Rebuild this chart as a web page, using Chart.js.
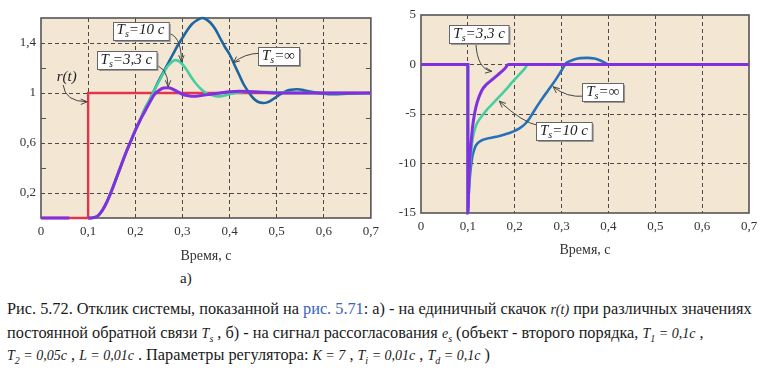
<!DOCTYPE html>
<html>
<head>
<meta charset="utf-8">
<script src="https://cdn.jsdelivr.net/npm/chart.js@4.4.1/dist/chart.umd.min.js"></script>
<style>
  html,body{margin:0;padding:0;background:#fff;}
  body{width:764px;height:376px;position:relative;overflow:hidden;
       font-family:"Liberation Serif",Tinos,"Times New Roman","DejaVu Serif",serif;color:#1a1a1a;}
  canvas{position:absolute;top:0;}
  #cA{left:0;}
  #cB{left:380px;}
  .lbl{position:absolute;font-size:15px;white-space:nowrap;}
  .cap{position:absolute;left:7px;font-size:16.3px;line-height:18px;white-space:nowrap;}
  .m{font-style:italic;font-size:14px;}
  .m sub{font-size:10px;}
  .lnk{color:#3a62c4;}
</style>
</head>
<body>
<canvas id="cA" width="385" height="265"></canvas>
<canvas id="cB" width="384" height="265"></canvas>
<div class="lbl" style="left:180px;top:270px;">а)</div>

<div class="cap" style="top:300px;">Рис. 5.72. Отклик системы, показанной на <span class="lnk">рис. 5.71</span>: а) - на единичный скачок <span class="m">r(t)</span> при различных значениях</div>
<div class="cap" style="top:324px;">постоянной обратной связи <span class="m">T<sub>s</sub></span> , б) - на сигнал рассогласования <span class="m">e<sub>s</sub></span> (объект - второго порядка, <span class="m">T<sub>1</sub> = 0,1c</span> ,</div>
<div class="cap" style="top:346px;"><span class="m">T<sub>2</sub> = 0,05c</span> , <span class="m">L = 0,01c</span> . Параметры регулятора: <span class="m">K = 7</span> , <span class="m">T<sub>i</sub> = 0,01c</span> , <span class="m">T<sub>d</sub> = 0,1c</span> )</div>

<script>
(function(){
  const FONT = '"Liberation Serif", Tinos, "Times New Roman", "DejaVu Serif", serif';

  /* ---- panel a: response to unit step ---- */
  const T_REF = [0, 0.1, 0.1, 0.7];
  const Y_REF = [0, 0, 1, 1];

  // Ts = 3,3 c (gap between 0.06 and 0.1 where r(t) shows)
  const T_A3 = [0, 0.06, 0.06, 0.1, 0.11, 0.12, 0.13, 0.14, 0.15, 0.16, 0.17, 0.18, 0.19, 0.2,
                0.21, 0.22, 0.23, 0.24, 0.25, 0.26, 0.27, 0.28, 0.29, 0.3, 0.31, 0.32, 0.33, 0.34,
                0.36, 0.38, 0.4, 0.42, 0.45, 0.5, 0.55, 0.6, 0.7];
  const Y_A3 = [0, 0, null, 0, 0.002, 0.015, 0.06, 0.13, 0.22, 0.32, 0.42, 0.52, 0.61, 0.70,
                0.78, 0.85, 0.92, 0.985, 1.02, 1.04, 1.042, 1.03, 1.01, 0.99, 0.98, 0.975, 0.975, 0.98,
                0.99, 1.0, 1.01, 1.015, 1.01, 1.0, 1.0, 1.0, 1.0];

  // Ts = 10 c
  const T_A10 = [0.1, 0.11, 0.12, 0.13, 0.14, 0.15, 0.16, 0.17, 0.18, 0.19, 0.2, 0.21, 0.22, 0.23,
                 0.24, 0.25, 0.26, 0.27, 0.28, 0.285, 0.29, 0.3, 0.31, 0.32, 0.33, 0.34, 0.35, 0.36,
                 0.37, 0.38, 0.39, 0.4, 0.42, 0.45, 0.5, 0.55, 0.7];
  const Y_A10 = [0, 0.002, 0.015, 0.06, 0.13, 0.22, 0.32, 0.42, 0.52, 0.61, 0.70, 0.78, 0.87, 0.94,
                 1.02, 1.09, 1.16, 1.22, 1.255, 1.263, 1.26, 1.23, 1.18, 1.12, 1.07, 1.03, 1.0, 0.985,
                 0.975, 0.973, 0.98, 0.99, 1.005, 1.01, 1.005, 1.0, 1.0];

  // Ts = inf
  const T_AINF = [0.1, 0.11, 0.12, 0.13, 0.14, 0.15, 0.16, 0.17, 0.18, 0.19, 0.2, 0.21, 0.22, 0.23,
                  0.24, 0.25, 0.26, 0.27, 0.28, 0.29, 0.3, 0.31, 0.32, 0.33, 0.342, 0.35, 0.36, 0.37,
                  0.38, 0.39, 0.4, 0.41, 0.42, 0.43, 0.44, 0.45, 0.46, 0.472, 0.48, 0.49, 0.5, 0.51,
                  0.52, 0.53, 0.542, 0.55, 0.56, 0.58, 0.6, 0.62, 0.65, 0.7];
  const Y_AINF = [0, 0.002, 0.015, 0.06, 0.13, 0.22, 0.32, 0.42, 0.52, 0.61, 0.70, 0.78, 0.87, 0.94,
                  1.02, 1.10, 1.17, 1.24, 1.31, 1.38, 1.44, 1.50, 1.55, 1.58, 1.60, 1.59, 1.56, 1.51,
                  1.44, 1.37, 1.31, 1.23, 1.15, 1.07, 1.01, 0.96, 0.93, 0.92, 0.925, 0.945, 0.97, 0.995,
                  1.015, 1.025, 1.03, 1.028, 1.02, 1.005, 0.995, 0.99, 0.995, 1.0];

  /* ---- panel b: error signal e_s ---- */
  const T_B3 = [0, 0.1, 0.1, 0.102, 0.105, 0.108, 0.11, 0.115, 0.12, 0.13, 0.14, 0.15, 0.16, 0.17,
                0.18, 0.186, 0.25, 0.7];
  const Y_B3 = [0, 0, -15, -12, -9, -7.3, -6.3, -4.8, -3.8, -2.6, -2.0, -1.6, -1.2, -0.8,
                -0.35, 0, 0, 0];

  const T_B10 = [0, 0.1, 0.1, 0.102, 0.105, 0.108, 0.11, 0.115, 0.12, 0.13, 0.14, 0.15, 0.16, 0.17,
                 0.18, 0.19, 0.2, 0.21, 0.22, 0.229, 0.3, 0.7];
  const Y_B10 = [0, 0, -15, -12.5, -10, -8.4, -7.6, -6.5, -5.9, -5.2, -4.6, -4.1, -3.6, -3.1,
                 -2.6, -2.05, -1.5, -1.0, -0.5, 0, 0, 0];

  const T_BINF = [0, 0.1, 0.1, 0.102, 0.105, 0.108, 0.11, 0.115, 0.12, 0.13, 0.14, 0.15, 0.16, 0.17,
                  0.18, 0.19, 0.2, 0.21, 0.22, 0.23, 0.24, 0.25, 0.26, 0.27, 0.28, 0.29, 0.3, 0.31,
                  0.32, 0.33, 0.34, 0.355, 0.37, 0.38, 0.39, 0.4, 0.45, 0.7];
  const Y_BINF = [0, 0, -15, -13, -11, -9.8, -9.2, -8.4, -8.0, -7.65, -7.5, -7.4, -7.3, -7.2,
                  -7.05, -6.9, -6.7, -6.45, -6.1, -5.55, -4.8, -4.05, -3.35, -2.7, -2.05, -1.35, -0.6, 0.15,
                  0.38, 0.55, 0.64, 0.67, 0.6, 0.45, 0.24, 0, 0, 0];

  /* ---- ticks ---- */
  const X_TICKS = [0, 0.1, 0.2, 0.3, 0.4, 0.5, 0.6, 0.7];
  const X_LABELS = ['0', '0,1', '0,2', '0,3', '0,4', '0,5', '0,6', '0,7'];
  const Y_TICKS_A = [0.2, 0.6, 1, 1.4];
  const Y_LABELS_A = ['0,2', '0,6', '1', '1,4'];
  const Y_MINOR_A = [0.4, 0.8, 1.2];
  const Y_TICKS_B = [-15, -10, -5, 0, 5];
  const Y_LABELS_B = ['-15', '-10', '-5', '0', '5'];

  const RED = '#e5334b', PURPLE = '#8130e0', GREEN = '#46cda0', BLUE = '#1d66a0', BLUE_B = '#2671b8';
  const BG = '#f3e7d3', GRID = '#4a4a4a', FRAME = '#555';

  const pts = (T, Y) => T.map((t, i) => ({x: t, y: Y[i]}));
  const line = (label, data, color, w) => ({
    label, data, borderColor: color, borderWidth: w, pointRadius: 0,
    cubicInterpolationMode: 'monotone', spanGaps: false, clip: false, fill: false
  });

  /* ---- plugins: plot background, frame, callouts ---- */
  const framePlugin = {
    id: 'frame',
    beforeDraw(chart){
      const {ctx, chartArea: a} = chart;
      ctx.save(); ctx.fillStyle = BG; ctx.fillRect(a.left, a.top, a.right - a.left, a.bottom - a.top); ctx.restore();
    },
    beforeDatasetsDraw(chart, args, opts){
      const {ctx, chartArea: a, scales: {y}} = chart;
      ctx.save();
      ctx.strokeStyle = FRAME; ctx.lineWidth = 1.6;
      ctx.strokeRect(a.left, a.top, a.right - a.left, a.bottom - a.top);
      ctx.lineWidth = 1;
      (opts.minor || []).forEach(v => {
        const py = Math.round(y.getPixelForValue(v)) + 0.5;
        ctx.beginPath();
        ctx.moveTo(a.left, py); ctx.lineTo(a.left + 5, py);
        ctx.moveTo(a.right, py); ctx.lineTo(a.right - 5, py);
        ctx.stroke();
      });
      ctx.restore();
    }
  };

  const notesPlugin = {
    id: 'notes',
    afterDatasetsDraw(chart, args, opts){
      const {ctx, scales: {x, y}} = chart;
      const P = p => [x.getPixelForValue(p[0]), y.getPixelForValue(p[1])];
      ctx.save();
      (opts.items || []).forEach(n => {
        // arrow
        const f = P(n.from), c = P(n.via), t = P(n.to);
        ctx.strokeStyle = '#444'; ctx.lineWidth = 1;
        ctx.beginPath(); ctx.moveTo(f[0], f[1]); ctx.quadraticCurveTo(c[0], c[1], t[0], t[1]); ctx.stroke();
        const ang = Math.atan2(t[1] - c[1], t[0] - c[0]);
        ctx.beginPath();
        ctx.moveTo(t[0] - 7 * Math.cos(ang - 0.4), t[1] - 7 * Math.sin(ang - 0.4));
        ctx.lineTo(t[0], t[1]);
        ctx.lineTo(t[0] - 7 * Math.cos(ang + 0.4), t[1] - 7 * Math.sin(ang + 0.4));
        ctx.stroke();
        // text
        const big = 'italic 15px ' + FONT, small = 'italic 10px ' + FONT;
        let w = 0;
        n.parts.forEach(p => { ctx.font = p[1] ? small : big; w += ctx.measureText(p[0]).width; });
        const [cx, cy] = P(n.at);
        if (n.box) {
          const bw = w + 8, bh = 18, bx = Math.round(cx - bw / 2) + 0.5, by = Math.round(cy - bh / 2) + 0.5;
          ctx.fillStyle = '#9a9a9a'; ctx.fillRect(bx + 1.5, by + 1.5, bw, bh);
          ctx.fillStyle = '#fff'; ctx.fillRect(bx, by, bw, bh);
          ctx.strokeStyle = '#666'; ctx.strokeRect(bx, by, bw, bh);
        }
        let tx = cx - w / 2;
        ctx.fillStyle = '#222'; ctx.textBaseline = 'middle';
        n.parts.forEach(p => {
          ctx.font = p[1] ? small : big;
          ctx.fillText(p[0], tx, cy + (p[1] ? 4 : 0));
          tx += ctx.measureText(p[0]).width;
        });
      });
      ctx.restore();
    }
  };

  function axisX(titlePad){
    return {
      type: 'linear', min: 0, max: 0.7,
      afterBuildTicks: s => { s.ticks = X_TICKS.map(v => ({value: v})); },
      ticks: {callback: (v, i) => X_LABELS[i], color: '#333', font: {family: FONT, size: 13}, padding: 6, maxRotation: 0},
      grid: {color: c => (c.tick && c.tick.value > 0.01 && c.tick.value < 0.69) ? GRID : 'rgba(0,0,0,0)', drawTicks: false, lineWidth: 1},
      border: {display: false, dash: [4, 3]},
      title: {display: true, text: 'Время, с', color: '#333', font: {family: FONT, size: 14}, padding: {top: 0, bottom: titlePad}}
    };
  }
  function axisY(min, max, ticks, labels, inner){
    return {
      type: 'linear', min, max,
      afterBuildTicks: s => { s.ticks = ticks.map(v => ({value: v})); },
      ticks: {callback: (v, i) => labels[i], color: '#333', font: {family: FONT, size: 13}, padding: 5},
      grid: {color: c => (c.tick && inner.includes(c.tick.value)) ? GRID : 'rgba(0,0,0,0)', drawTicks: false, lineWidth: 1},
      border: {display: false, dash: [4, 3]}
    };
  }

  function makeChart(id, datasets, xs, ys, pad, xh, minor, items){
    xs.afterFit = s => { s.height = xh; };
    ys.afterFit = s => { s.width = 41; };
    return new Chart(document.getElementById(id), {
      type: 'line',
      data: {datasets},
      options: {
        responsive: false, animation: false, events: [],
        layout: {padding: pad},
        plugins: {legend: {display: false}, tooltip: {enabled: false},
                  frame: {minor}, notes: {items}},
        scales: {x: xs, y: ys}
      },
      plugins: [framePlugin, notesPlugin]
    });
  }

  const TS = (rest) => [['T', 0], ['s', 1], [rest, 0]];

  makeChart('cA', [
      line('Ts=3,3 c', pts(T_A3, Y_A3), PURPLE, 3),
      line('Ts=10 c', pts(T_A10, Y_A10), GREEN, 2.6),
      line('Ts=inf', pts(T_AINF, Y_AINF), BLUE, 2.6),
      Object.assign(line('r(t)', pts(T_REF, Y_REF), RED, 2.4), {cubicInterpolationMode: 'default', tension: 0})
    ],
    axisX(0), axisY(0, 1.6, Y_TICKS_A, Y_LABELS_A, Y_TICKS_A),
    {top: 18, right: 14, left: 0, bottom: 0}, 47, Y_MINOR_A,
    [
      {parts: TS('=10 c'), box: true, at: [0.211, 1.5], from: [0.264, 1.48], via: [0.298, 1.478], to: [0.298, 1.25]},
      {parts: TS('=3,3 c'), box: true, at: [0.181, 1.264], from: [0.235, 1.224], via: [0.269, 1.224], to: [0.27, 1.05]},
      {parts: TS('=∞'), box: true, at: [0.504, 1.296], from: [0.465, 1.318], via: [0.433, 1.318], to: [0.408, 1.242]},
      {parts: [['r(t)', 0]], box: false, at: [0.0545, 1.126], from: [0.047, 1.064], via: [0.051, 0.93], to: [0.098, 0.93]}
    ]);

  makeChart('cB', [
      line('Ts=3,3 c', pts(T_B3, Y_B3), PURPLE, 3),
      line('Ts=10 c', pts(T_B10, Y_B10), GREEN, 2.6),
      line('Ts=inf', pts(T_BINF, Y_BINF), BLUE_B, 2.6)
    ],
    axisX(6), axisY(-15, 5, Y_TICKS_B, Y_LABELS_B, [-10, -5, 0]),
    {top: 15, right: 15, left: 0, bottom: 0}, 52, [],
    [
      {parts: TS('=3,3 c'), box: true, at: [0.124, 3.06], from: [0.117, 2.2], via: [0.12, -0.5], to: [0.151, -0.68]},
      {parts: TS('=∞'), box: true, at: [0.388, -2.78], from: [0.348, -3.2], via: [0.311, -3.36], to: [0.282, -2.25]},
      {parts: TS('=10 c'), box: true, at: [0.305, -6.72], from: [0.25, -6.16], via: [0.218, -5.9], to: [0.167, -3.7]}
    ]);
})();
</script>
</body>
</html>
